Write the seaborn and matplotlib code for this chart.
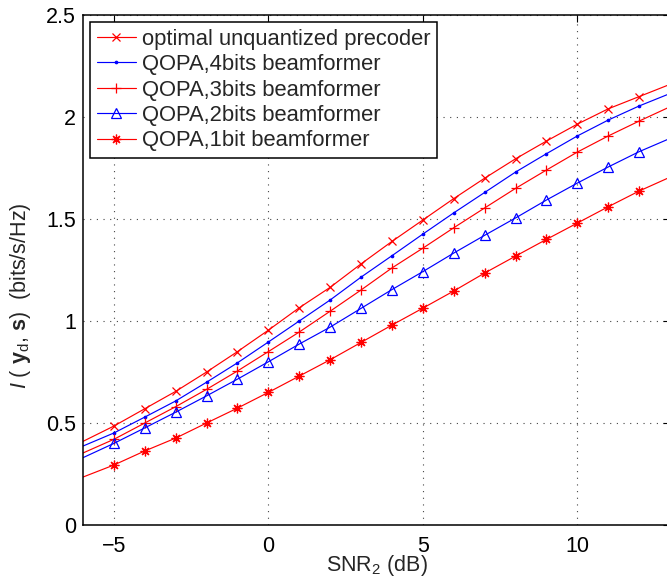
import numpy as np
import pandas as pd
import seaborn as sns
import matplotlib.pyplot as plt

# SNR grid (dB); markers drawn only at -5..12
snr = [-6, -5, -4, -3, -2, -1, 0, 1, 2, 3, 4, 5, 6, 7, 8, 9, 10, 11, 12, 13]

optimal = [0.41, 0.485, 0.57, 0.655, 0.75, 0.85, 0.955, 1.065, 1.165, 1.28, 1.39,
           1.495, 1.60, 1.70, 1.795, 1.882, 1.965, 2.04, 2.10, 2.16]
qopa4 = [0.387, 0.451, 0.529, 0.608, 0.70, 0.795, 0.897, 1.0, 1.103, 1.215, 1.32,
         1.426, 1.53, 1.63, 1.73, 1.82, 1.907, 1.985, 2.054, 2.115]
qopa3 = [0.353, 0.42, 0.50, 0.58, 0.665, 0.755, 0.85, 0.946, 1.048, 1.152, 1.26,
         1.357, 1.457, 1.554, 1.65, 1.74, 1.828, 1.907, 1.98, 2.05]
qopa2 = [0.33, 0.40, 0.476, 0.553, 0.633, 0.715, 0.80, 0.887, 0.97, 1.062, 1.154,
         1.242, 1.333, 1.42, 1.505, 1.593, 1.676, 1.755, 1.83, 1.895]
qopa1 = [0.235, 0.294, 0.363, 0.426, 0.50, 0.573, 0.65, 0.73, 0.81, 0.895, 0.98,
         1.063, 1.147, 1.235, 1.318, 1.40, 1.48, 1.56, 1.637, 1.705]

labels = ['optimal unquantized precoder', 'QOPA,4bits beamformer',
          'QOPA,3bits beamformer', 'QOPA,2bits beamformer', 'QOPA,1bit beamformer']
series = [optimal, qopa4, qopa3, qopa2, qopa1]
colors = ['#ff0000', '#0000ff', '#ff0000', '#0000ff', '#ff0000']
markers = ['x', '.', '+', '^', (8, 2, 0)]   # last one: matlab-style asterisk
msizes = [5.5, 3.5, 7.5, 7.5, 7]

sns.set_style('white')
plt.rcParams['font.family'] = ['Liberation Sans', 'DejaVu Sans']
plt.rcParams['mathtext.fontset'] = 'custom'
plt.rcParams['mathtext.rm'] = 'Liberation Sans'
plt.rcParams['mathtext.it'] = 'Liberation Sans:italic'
plt.rcParams['mathtext.bf'] = 'Liberation Sans:bold'

fig = plt.figure(figsize=(6.67, 5.76), dpi=100)
ax = fig.add_axes([83 / 667, 51 / 576, 587 / 667, 510 / 576])

for lab, vals, c, m, ms in zip(labels, series, colors, markers, msizes):
    df = pd.DataFrame({'snr': snr, 'val': vals})
    sns.lineplot(data=df, x='snr', y='val', ax=ax, color=c, marker=m,
                 markersize=ms, markeredgecolor=c, markeredgewidth=0.9,
                 markerfacecolor=('none' if m == '^' else c),
                 markevery=slice(1, -1), linewidth=0.85, label=lab)

ax.set_xlim(-6, 13)
ax.set_ylim(0, 2.5)
ax.set_xticks([-5, 0, 5, 10])
ax.set_xticklabels(['\u22125', '0', '5', '10'])
ax.set_yticks([0, 0.5, 1, 1.5, 2, 2.5])
ax.set_yticklabels(['0', '0.5', '1', '1.5', '2', '2.5'])
ax.grid(True, linestyle=(0, (1, 5)), color='#444444', linewidth=0.8)
ax.tick_params(direction='in', length=5, labelsize=15.5, colors='black',
               top=True, right=True)
ax.tick_params(axis='x', pad=8)
ax.tick_params(axis='y', pad=5)
for sp in ax.spines.values():
    sp.set_color('black')
    sp.set_linewidth(1.1)

ax.set_xlabel(r'SNR$_2$ (dB)', fontsize=15.5, labelpad=-3)
ax.set_ylabel(r'$I$ ( $\mathbf{y}_\mathrm{d}$, $\mathbf{s}$)  (bits/s/Hz)',
              fontsize=15.5)
ax.yaxis.set_label_coords(-0.085, 0.45)

leg = ax.legend(loc='upper left', bbox_to_anchor=(0.012, 0.986), fontsize=15.8,
                frameon=True, fancybox=False, edgecolor='black', framealpha=1,
                borderpad=0.3, labelspacing=0.2, handlelength=1.8,
                handletextpad=0.25, borderaxespad=0)
leg.get_frame().set_linewidth(1.1)

fig.savefig('out.png', dpi=100)
